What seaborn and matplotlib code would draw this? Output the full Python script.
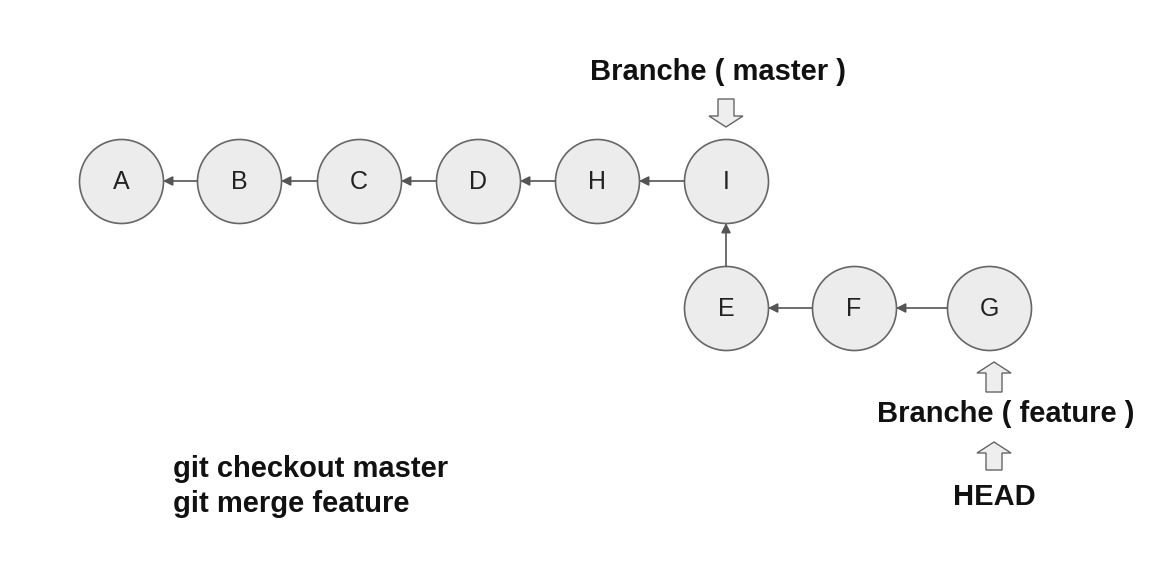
import matplotlib.pyplot as plt
import seaborn as sns
import pandas as pd
from matplotlib.patches import FancyArrow

# ── Données du graphe (positions en pixels de l'image) ──────────────────────
NOEUDS = ["A", "B", "C", "D", "H", "I", "E", "F", "G"]
X = [121, 239, 359, 478, 597, 726, 726, 854, 989]
Y = [181, 181, 181, 181, 181, 181, 308, 308, 308]
ARETES = [("B", "A"), ("C", "B"), ("D", "C"), ("H", "D"), ("I", "H"),
          ("E", "I"), ("F", "E"), ("G", "F")]
R = 42

sns.set_theme(style="white")
plt.rcParams["font.family"] = ["Liberation Sans", "DejaVu Sans"]

df = pd.DataFrame({"noeud": NOEUDS, "x": X, "y": Y})
pos = {n: (x, y) for n, x, y in zip(NOEUDS, X, Y)}

fig, ax = plt.subplots(figsize=(11.73, 5.70), dpi=100)
fig.subplots_adjust(0, 0, 1, 1)
ax.set_xlim(0, 1173)
ax.set_ylim(570, 0)
ax.set_aspect("equal")
ax.axis("off")

# taille du marqueur : rayon 42 px -> diamètre en points
d_pt = 2 * R * 72 / 100
sns.scatterplot(data=df, x="x", y="y", s=d_pt ** 2, color="#ececec",
                edgecolor="#666666", linewidth=1.2, ax=ax, legend=False, zorder=3)
for n, x, y in zip(NOEUDS, X, Y):
    ax.text(x, y + 1, n, ha="center", va="center", fontsize=18, color="#222", zorder=4)

# flèches enfant -> parent
for a, b in ARETES:
    (x1, y1), (x2, y2) = pos[a], pos[b]
    dx, dy = x2 - x1, y2 - y1
    L = (dx ** 2 + dy ** 2) ** 0.5
    ux, uy = dx / L, dy / L
    ax.annotate("", xy=(x2 - ux * R, y2 - uy * R), xytext=(x1 + ux * R, y1 + uy * R),
                arrowprops=dict(arrowstyle="-|>", color="#555555", lw=1.2,
                                mutation_scale=14, shrinkA=0, shrinkB=0))

# flèches pleines (pointeurs de branche)
def bloc(x, y0, y1):
    ax.add_patch(FancyArrow(x, y0, 0, y1 - y0, width=16, head_width=34,
                            head_length=11, length_includes_head=True,
                            facecolor="#eeeeee", edgecolor="#666666", lw=1))

bloc(726, 99, 127)
bloc(994, 392, 362)
bloc(994, 470, 442)

style = dict(fontsize=21, fontweight="bold", color="#111")
ax.text(718, 72, "Branche ( master )", ha="center", va="center", **style)
ax.text(1006, 414, "Branche ( feature )", ha="center", va="center", **style)
ax.text(994, 497, "HEAD", ha="center", va="center", **style)
ax.text(173, 469, "git checkout master", ha="left", va="center", **style)
ax.text(173, 504, "git merge feature", ha="left", va="center", **style)

fig.savefig("out.png", dpi=100, facecolor="white")
